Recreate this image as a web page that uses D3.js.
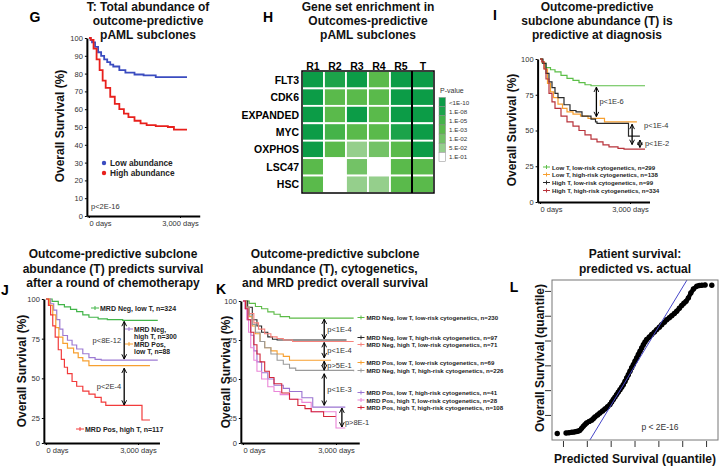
<!DOCTYPE html>
<html>
<head>
<meta charset="utf-8">
<script src="https://cdn.jsdelivr.net/npm/d3@7"></script>
<style>
  body { margin: 0; background: #fff; }
  svg { font-family: "Liberation Sans", Arial, sans-serif; }
</style>
</head>
<body>
<svg id="fig" width="720" height="466"></svg>
<script>
// ---------- data (days, % surviving) ----------
// G
const gLowAbundance = [[0,100],[50,99],[100,97.5],[200,95],[300,92],[400,90],[500,88],[600,86.5],[700,85],[800,84],[1000,82],[1200,80.5],[1500,79.5],[1800,79],[2200,78],[3230,78]];
const gHighAbundance = [[0,100],[60,99],[150,94],[250,88],[350,82],[450,76],[550,72],[700,67],[850,63],[1000,60],[1150,57.5],[1300,55.5],[1500,53.5],[1700,52],[1900,51],[2200,50.5],[2600,50],[2800,48.5],[3230,48.5]];
const gLegend = ["Low abundance", "High abundance"];

// H
const hmRows = ["FLT3", "CDK6", "EXPANDED", "MYC", "OXPHOS", "LSC47", "HSC"];
const hmCols = ["R1", "R2", "R3", "R4", "R5", "T"];
const pLevels = ["<1E-10", "1.E-08", "1.E-05", "1.E-03", "1.E-02", "5.E-02", "1.E-01"];
const hmValues = [
  ["<1E-10", "1.E-08", "<1E-10", "1.E-03", "<1E-10", "<1E-10"],
  ["<1E-10", "1.E-03", "1.E-03", "1.E-03", "<1E-10", "<1E-10"],
  ["<1E-10", "1.E-03", "<1E-10", "1.E-03", "<1E-10", "<1E-10"],
  ["<1E-10", "1.E-05", "1.E-03", "1.E-03", "1.E-08", "<1E-10"],
  ["<1E-10", "1.E-03", "5.E-02", "1.E-02", "1.E-03", "<1E-10"],
  ["1.E-03", "1.E-01", "1.E-02", "1.E-01", "1.E-03", "1.E-03"],
  ["1.E-03", "1.E-01", "5.E-02", "5.E-02", "1.E-03", "1.E-03"]
];

// I
const iLowTLowRisk = [[0,100],[80,97],[200,94],[350,92.5],[500,91],[700,88.5],[900,86.5],[1100,85],[1300,83.5],[1500,82],[1700,81.3],[3500,81.3]];
const iLowTHighRisk = [[0,100],[80,98],[150,93],[250,83],[350,77],[450,73],[600,68.5],[750,65.5],[900,63],[1100,61.5],[1350,60],[1600,58.5],[2150,56],[3230,56]];
const iHighTLowRisk = [[0,100],[100,97],[200,90],[300,84],[400,80],[500,76],[600,73],[800,68],[1000,64],[1200,63],[1400,60],[1700,58],[1850,56],[1900,55],[2950,46],[3330,46]];
const iHighTHighRisk = [[0,100],[60,98],[130,93],[200,86],[300,76],[400,70],[500,65.5],[700,60],[900,56],[1100,53],[1300,50],[1500,47],[1700,44],[1900,42],[2100,40],[2300,38.5],[2600,37.5],[2800,37],[3500,37]];
const iLegend = ["Low T, low-risk cytogenetics, n=299", "Low T, high-risk cytogenetics, n=138", "High T, low-risk cytogenetics, n=99", "High T, high-risk cytogenetics, n=334"];
const iTests = [
  { day: 1880, top: 81, bottom: 59, label: "p<1E-6" },
  { day: 3070, top: 55, bottom: 39.5, label: "p<1E-4" },
  { day: 3330, top: 44, bottom: 37.5, label: "p<1E-2" }
];

// J
const jNegLowT = [[0,100],[200,98.5],[400,96.5],[600,95],[800,93.5],[1000,92],[1200,90],[1400,88.5],[1700,87.5],[2000,87],[2500,86.5],[3645,86.5]];
const jNegHighT = [[0,100],[150,97],[250,93],[350,87],[450,81],[550,77],[700,74],[850,71],[1000,68.5],[1200,65.5],[1400,63],[1600,62],[1800,61.5],[3645,61.5]];
const jPosLowT = [[0,100],[120,96],[220,90],[320,82],[420,76],[550,72],[700,69],[900,66],[1050,63],[1200,61],[1400,58],[3390,58]];
const jPosHighT = [[0,100],[80,96],[150,90],[220,83],[300,76],[400,68],[500,62],[600,57],[700,53],[850,48],[1000,45],[1200,42],[1400,40],[1600,38],[1800,35],[1950,33],[3130,23],[3390,23]];
const jLegend = ["MRD Neg, low T, n=324", ["MRD Neg,", "high T, n=300"], ["MRD Pos,", "low T, n=88"], "MRD Pos, high T, n=117"];
const jTests = [
  { day: 2550, top: 86.5, bottom: 61.5, label: "p<8E-12" },
  { day: 2550, top: 57, bottom: 32.5, label: "p<2E-4" }
];

// K
const kNegLowTLow = [[0,100],[200,98.5],[400,96.5],[600,95],[800,93],[1000,91.5],[1200,90],[1500,89],[3570,89]];
const kNegLowTHigh = [[0,100],[150,96],[300,88],[450,84],[600,80],[800,77],[950,75.5],[1100,75],[3340,75]];
const kNegHighTLow = [[0,100],[100,96],[200,92],[350,86],[500,82],[700,79],[900,77],[1100,76],[1300,75],[1600,74],[3570,74]];
const kPosLowTLow = [[0,100],[100,96],[200,90],[300,84],[400,79],[550,74],[700,70],[900,68],[1100,66],[1300,64.5],[1500,62],[2840,62]];
const kNegHighTHigh = [[0,100],[100,96],[200,91],[300,85],[400,80],[550,74],[700,70],[900,66],[1100,62],[1300,59.5],[1500,57],[1700,55.5],[3570,55]];
const kPosLowTHigh = [[0,100],[80,95],[150,88],[250,78],[350,68],[450,61],[600,54],[800,50],[1000,46],[1300,44],[1500,42],[1900,38],[2250,32],[3300,32]];
const kPosHighTLow = [[0,100],[60,95],[120,88],[180,80],[250,70],[350,62],[450,55],[600,50],[800,45],[1000,42],[1200,40],[1500,37],[1900,35],[2200,29],[3000,15],[3300,15]];
const kPosHighTHigh = [[0,100],[80,95],[160,88],[250,80],[350,72],[450,66],[550,61],[700,55],[850,51],[1000,47],[1250,41],[1500,37],[1770,33],[2000,31],[2200,29],[2600,26],[2990,26]];
const kLegend = [
  "MRD Neg, low T, low-risk cytogenetics, n=230",
  "MRD Neg, low T, high-risk cytogenetics, n=97",
  "MRD Neg, high T, low-risk cytogenetics, n=71",
  "MRD Pos, low T, low-risk cytogenetics, n=69",
  "MRD Neg, high T, high-risk cytogenetics, n=226",
  "MRD Pos, low T, high-risk cytogenetics, n=41",
  "MRD Pos, high T, low-risk cytogenetics, n=28",
  "MRD Pos, high T, high-risk cytogenetics, n=108"
];
const kTests = [
  { day: 2620, top: 89, bottom: 75, label: "p<1E-4" },
  { day: 2620, top: 74, bottom: 63, label: "p<1E-4" },
  { day: 2620, top: 62, bottom: 55, label: "p>5E-1" },
  { day: 2620, top: 54, bottom: 32.5, label: "p<1E-3" },
  { day: 3190, top: 32, bottom: 15, label: "p>8E-1" }
];

// L (quantile units)
const lPredicted = [-0.24,0.13,0.25,0.37,0.47,0.57,0.65,0.71,0.78,0.85,0.92,0.99,1.10,1.20,1.27,1.34,1.45,1.55,1.66,1.76,1.87,1.97,2.04,2.11,2.18,2.25,2.32,2.39,2.46,2.53,2.60,2.67,2.74,2.81,2.88,2.95,3.02,3.09,3.16,3.23,3.30,3.37,3.44,3.51,3.62,3.72,3.83,3.93,4.04,4.14,4.25,4.35,4.46,4.56,4.67,4.77,4.88,4.98,5.07,5.16,5.26,5.36,5.47,5.61,5.72,5.82,5.96,6.24];
const lActual = [-0.75,-0.73,-0.72,-0.70,-0.69,-0.67,-0.65,-0.62,-0.54,-0.46,-0.39,-0.32,-0.26,-0.21,-0.15,-0.08,0.00,0.08,0.16,0.24,0.33,0.42,0.52,0.62,0.72,0.82,0.92,1.02,1.12,1.22,1.35,1.49,1.62,1.76,1.90,2.03,2.17,2.30,2.44,2.57,2.70,2.83,2.94,3.04,3.14,3.24,3.34,3.44,3.54,3.64,3.74,3.84,3.92,4.00,4.09,4.18,4.30,4.41,4.50,4.58,4.72,4.92,5.08,5.19,5.22,5.23,5.24,5.23];
const lRefX = [1.13, 5.20];
const lRefY = [-1.01, 5.44];

// ---------- drawing ----------
const svg = d3.select("#fig");
const FONT = "Liberation Sans, Arial, sans-serif";

svg.append("defs").append("marker")
  .attr("id", "arrowhead")
  .attr("viewBox", "0 0 10 10")
  .attr("refX", 9).attr("refY", 5)
  .attr("markerWidth", 6).attr("markerHeight", 6)
  .attr("markerUnits", "userSpaceOnUse")
  .attr("orient", "auto-start-reverse")
  .append("path").attr("d", "M1,1 L9,5 L1,9")
  .attr("fill", "none").attr("stroke", "#000").attr("stroke-width", 1.6);

function title(lines, cx, y0, dy) {
  lines.forEach((t, i) => {
    svg.append("text").attr("x", cx).attr("y", y0 + i * dy)
      .attr("text-anchor", "middle").attr("dominant-baseline", "central")
      .attr("font-size", 12).attr("font-weight", "bold").attr("fill", "#111").text(t);
  });
}

function panelLetter(t, x, y) {
  svg.append("text").attr("x", x).attr("y", y).attr("text-anchor", "middle")
    .attr("dominant-baseline", "central").attr("font-size", 14).attr("font-weight", "bold").text(t);
}

function yTitle(t, x, cy) {
  svg.append("text").attr("transform", `translate(${x},${cy}) rotate(-90)`)
    .attr("text-anchor", "middle").attr("dominant-baseline", "central")
    .attr("font-size", 12).attr("font-weight", "bold").attr("fill", "#111").text(t);
}

function survivalPanel(o) {
  const k = (o.x3000 - o.x0) / 3000;
  const x = d3.scaleLinear().domain([o.dMin, o.dMax]).range([o.x0 + o.dMin * k, o.x0 + o.dMax * k]);
  const y = d3.scaleLinear().domain(o.yDom).range(o.yRng);
  const line = d3.line().x(d => x(d[0])).y(d => y(d[1])).curve(d3.curveStepAfter);

  o.curves.forEach(c => {
    svg.append("path").attr("d", line(c.data)).attr("fill", "none")
      .attr("stroke", c.color).attr("stroke-width", o.lw || 1.1);
  });

  const ya = svg.append("g").attr("transform", `translate(${x(o.dMin)},0)`)
    .call(d3.axisLeft(y).tickValues(o.yTicks).tickSize(2).tickSizeOuter(0).tickPadding(2));
  const xa = svg.append("g").attr("transform", `translate(0,${y(0)})`)
    .call(d3.axisBottom(x).tickValues([0, 3000]).tickSize(2).tickSizeOuter(0).tickPadding(3)
      .tickFormat(d => d3.format(",")(d) + " days"));
  [ya, xa].forEach(a => {
    a.attr("font-family", FONT);
    a.select(".domain").attr("stroke", "#000").attr("stroke-width", 2);
    a.selectAll(".tick line").attr("stroke", "#000");
    a.selectAll(".tick text").attr("font-size", 7.5).attr("fill", "#333");
  });
  xa.selectAll(".tick text").attr("text-anchor", d => d === 0 ? "start" : "middle");
  return { x, y };
}

function plusMark(x, y, color, w) {
  svg.append("line").attr("x1", x - w / 2).attr("x2", x + w / 2).attr("y1", y).attr("y2", y)
    .attr("stroke", color).attr("stroke-width", 1);
  svg.append("line").attr("x1", x).attr("x2", x).attr("y1", y - 2).attr("y2", y + 2)
    .attr("stroke", color).attr("stroke-width", 1);
}

function smallLabel(lines, x, y, size, lh) {
  [].concat(lines).forEach((t, i) => {
    svg.append("text").attr("x", x).attr("y", y + i * lh).attr("dominant-baseline", "central")
      .attr("font-size", size).attr("font-weight", "bold").attr("fill", "#222").text(t);
  });
}

function testArrows(p, tests, place) {
  tests.forEach((t, i) => {
    const xx = p.x(t.day);
    svg.append("line").attr("x1", xx).attr("x2", xx)
      .attr("y1", p.y(t.top) + 1).attr("y2", p.y(t.bottom) - 1)
      .attr("stroke", "#000").attr("stroke-width", 1.3)
      .attr("marker-start", "url(#arrowhead)").attr("marker-end", "url(#arrowhead)");
    const pl = place(i);
    svg.append("text").attr("x", xx + pl.dx).attr("y", (p.y(t.top) + p.y(t.bottom)) / 2 + (pl.dy || 0))
      .attr("text-anchor", pl.anchor).attr("dominant-baseline", "central")
      .attr("font-size", 7.5).attr("fill", "#333").text(t.label);
  });
}

// ===== G =====
panelLetter("G", 35, 17);
title(["T: Total abundance of", "outcome-predictive", "pAML subclones"], 148, 7, 14);
const gColors = ["#3b4cc0", "#e8201c"];
survivalPanel({
  x0: 89, x3000: 180, dMin: -70, dMax: 3650,
  yDom: [0, 100], yRng: [216, 38], yTicks: d3.range(0, 101, 10), lw: 1.8,
  curves: [{ data: gLowAbundance, color: gColors[0] }, { data: gHighAbundance, color: gColors[1] }]
});
yTitle("Overall Survival (%)", 60, 126);
gLegend.forEach((t, i) => {
  svg.append("circle").attr("cx", 104).attr("cy", 163 + i * 10).attr("r", 2.2).attr("fill", gColors[i]);
  svg.append("text").attr("x", 110).attr("y", 163 + i * 10).attr("dominant-baseline", "central")
    .attr("font-size", 8.3).attr("font-weight", "bold").attr("fill", "#222").text(t);
});
svg.append("text").attr("x", 91).attr("y", 206).attr("dominant-baseline", "central")
  .attr("font-size", 7.5).attr("fill", "#333").text("p<2E-16");

// ===== H =====
panelLetter("H", 268, 17);
title(["Gene set enrichment in", "Outcomes-predictive", "pAML subclones"], 368, 7, 14);
const pColors = ["#0c9c47", "#1ca34a", "#45b349", "#5aba4b", "#73c266", "#95cf8c", "#ffffff"];
const pColor = d3.scaleOrdinal(pLevels, pColors);
const hx = d3.scaleBand().domain(hmCols).range([302, 434]);
const hy = d3.scaleBand().domain(hmRows).range([71, 193]);
hmRows.forEach((r, ri) => {
  hmCols.forEach((c, ci) => {
    svg.append("rect").attr("x", hx(c)).attr("y", hy(r)).attr("width", hx.bandwidth()).attr("height", hy.bandwidth())
      .attr("fill", pColor(hmValues[ri][ci])).attr("stroke", "#fff").attr("stroke-width", 1.8);
  });
  svg.append("text").attr("x", 299).attr("y", hy(r) + hy.bandwidth() / 2).attr("text-anchor", "end")
    .attr("dominant-baseline", "central").attr("font-size", 10.5).attr("font-weight", "bold").text(r);
});
hmCols.forEach(c => {
  svg.append("text").attr("x", hx(c) + hx.bandwidth() / 2).attr("y", 65.5).attr("text-anchor", "middle")
    .attr("dominant-baseline", "central").attr("font-size", 10.5).attr("font-weight", "bold").text(c);
});
svg.append("rect").attr("x", 302).attr("y", 71).attr("width", 132).attr("height", 122)
  .attr("fill", "none").attr("stroke", "#000").attr("stroke-width", 1.5);
svg.append("line").attr("x1", hx("T")).attr("x2", hx("T")).attr("y1", 71).attr("y2", 193)
  .attr("stroke", "#000").attr("stroke-width", 2);
// legend
const ly = d3.scaleBand().domain(pLevels).range([97.5, 161.5]);
svg.append("text").attr("x", 440).attr("y", 90).attr("dominant-baseline", "central")
  .attr("font-size", 7).attr("fill", "#333").text("P-value");
pLevels.forEach(p => {
  svg.append("rect").attr("x", 439).attr("y", ly(p)).attr("width", 6.5).attr("height", ly.bandwidth())
    .attr("fill", pColor(p)).attr("stroke", "#888").attr("stroke-width", 0.5);
  svg.append("text").attr("x", 449).attr("y", ly(p) + ly.bandwidth() / 2).attr("dominant-baseline", "central")
    .attr("font-size", 6.2).attr("fill", "#333").text(p);
});

// ===== I =====
panelLetter("I", 495, 15);
title(["Outcome-predictive", "subclone abundance (T) is", "predictive at diagnosis"], 597, 7, 14);
const iColors = ["#5cbf48", "#f7a030", "#2a2a2a", "#b8323a"];
const pI = survivalPanel({
  x0: 540, x3000: 630, dMin: -80, dMax: 3650,
  yDom: [0, 100], yRng: [202, 59], yTicks: [0, 25, 50, 75, 100], lw: 1.2,
  curves: [iLowTLowRisk, iLowTHighRisk, iHighTLowRisk, iHighTHighRisk].map((d, i) => ({ data: d, color: iColors[i] }))
});
yTitle("Overall Survival (%)", 512, 130);
iLegend.forEach((t, i) => {
  const yy = [167, 174.5, 182.5, 190.5][i];
  plusMark(546.5, yy, iColors[i], 7);
  smallLabel(t, 552, yy, 6.1, 0);
});
testArrows(pI, iTests, i => [{ dx: 3, anchor: "start" }, { dx: 12, anchor: "start", dy: -9 }, { dx: 5, anchor: "start" }][i]);

// ===== J =====
panelLetter("J", 5, 290);
title(["Outcome-predictive subclone", "abundance (T) predicts survival", "after a round of chemotherapy"], 113, 254, 14.5);
const jColors = ["#42b549", "#9d7bd3", "#f7a030", "#f23b3b"];
const pJ = survivalPanel({
  x0: 46, x3000: 138, dMin: -70, dMax: 3700,
  yDom: [0, 25, 100], yRng: [443, 418, 299], yTicks: [0, 25, 50, 75, 100], lw: 1.2,
  curves: [jNegLowT, jNegHighT, jPosLowT, jPosHighT].map((d, i) => ({ data: d, color: jColors[i] }))
});
yTitle("Overall Survival (%)", 22, 371);
plusMark(95, 308, jColors[0], 8); smallLabel(jLegend[0], 100, 308, 7, 0);
plusMark(129, 329, jColors[1], 8); smallLabel(jLegend[1], 134, 329, 6.8, 7.5);
plusMark(129, 344, jColors[2], 8); smallLabel(jLegend[2], 134, 344, 6.8, 7.5);
plusMark(80, 429, jColors[3], 8); smallLabel(jLegend[3], 85, 429, 7, 0);
testArrows(pJ, jTests, () => ({ dx: -3, anchor: "end" }));

// ===== K =====
panelLetter("K", 221, 289);
title(["Outcome-predictive subclone", "abundance (T), cytogenetics,", "and MRD predict overall survival"], 335, 254, 14.5);
const kColors = ["#5cbb47", "#2b2b2b", "#f7827c", "#f7a030", "#9a9a9a", "#9b74d1", "#ea86d8", "#d3263a"];
const kCurves = [kNegLowTLow, kNegLowTHigh, kNegHighTLow, kPosLowTLow, kNegHighTHigh, kPosLowTHigh, kPosHighTLow, kPosHighTHigh];
const pK = survivalPanel({
  x0: 243, x3000: 336, dMin: -70, dMax: 3750,
  yDom: [0, 25, 100], yRng: [443, 418, 301], yTicks: [0, 25, 50, 75, 100],
  curves: kCurves.map((d, i) => ({ data: d, color: kColors[i] }))
});
yTitle("Overall Survival (%)", 226, 372);
const kLabelY = [317.5, 337.5, 344.5, 362.5, 370.5, 392.5, 400, 407.5];
kLegend.forEach((t, i) => {
  plusMark(361, kLabelY[i], kColors[i], 7);
  smallLabel(t, 366.5, kLabelY[i], 6.1, 0);
});
testArrows(pK, kTests, i => i < 4 ? { dx: 3, anchor: "start" } : { dx: 3, anchor: "start", dy: 5 });

// ===== L =====
panelLetter("L", 514, 287);
title(["Patient survival:", "predicted vs. actual"], 635, 254, 14.5);
const lx = d3.scaleLinear().domain([-0.46, 6.5]).range([552, 718]);
const lyq = d3.scaleLinear().domain([-1.01, 5.44]).range([440, 280]);
svg.append("clipPath").attr("id", "lclip").append("rect").attr("x", 552).attr("y", 280).attr("width", 166).attr("height", 160);
const lg = svg.append("g").attr("clip-path", "url(#lclip)");
const qq = lPredicted.map((v, i) => [v, lActual[i]]);
lg.append("path").attr("d", d3.line().x(d => lx(d[0])).y(d => lyq(d[1]))(qq.slice(1, -1)))
  .attr("fill", "none").attr("stroke", "#000").attr("stroke-width", 4.5).attr("stroke-linejoin", "round").attr("stroke-linecap", "round");
lg.selectAll("circle.q").data(qq).enter().append("circle").attr("class", "q")
  .attr("cx", d => lx(d[0])).attr("cy", d => lyq(d[1])).attr("r", 2.7).attr("fill", "#000");
lg.append("line").attr("x1", lx(lRefX[0])).attr("y1", lyq(lRefY[0])).attr("x2", lx(lRefX[1])).attr("y2", lyq(lRefY[1]))
  .attr("stroke", "#4646c8").attr("stroke-width", 1);
svg.append("rect").attr("x", 552).attr("y", 280).attr("width", 166).attr("height", 160)
  .attr("fill", "none").attr("stroke", "#777").attr("stroke-width", 1);
const lxa = svg.append("g").attr("transform", "translate(0,441)")
  .call(d3.axisBottom(lx).tickValues(d3.range(0, 7)).tickSize(6).tickFormat(""));
const lya = svg.append("g").attr("transform", "translate(551,0)")
  .call(d3.axisLeft(lyq).tickValues(d3.range(0, 6)).tickSize(6).tickFormat(""));
[lxa, lya].forEach(a => { a.select(".domain").remove(); a.selectAll(".tick line").attr("stroke", "#333"); });
svg.append("text").attr("x", 660).attr("y", 427).attr("text-anchor", "middle").attr("dominant-baseline", "central")
  .attr("font-size", 8.5).attr("fill", "#333").text("p < 2E-16");
svg.append("text").attr("x", 635).attr("y", 459).attr("text-anchor", "middle").attr("dominant-baseline", "central")
  .attr("font-size", 12).attr("font-weight", "bold").attr("fill", "#111").text("Predicted Survival (quantile)");
yTitle("Overall Survival (quantile)", 540, 358);
</script>
</body>
</html>
